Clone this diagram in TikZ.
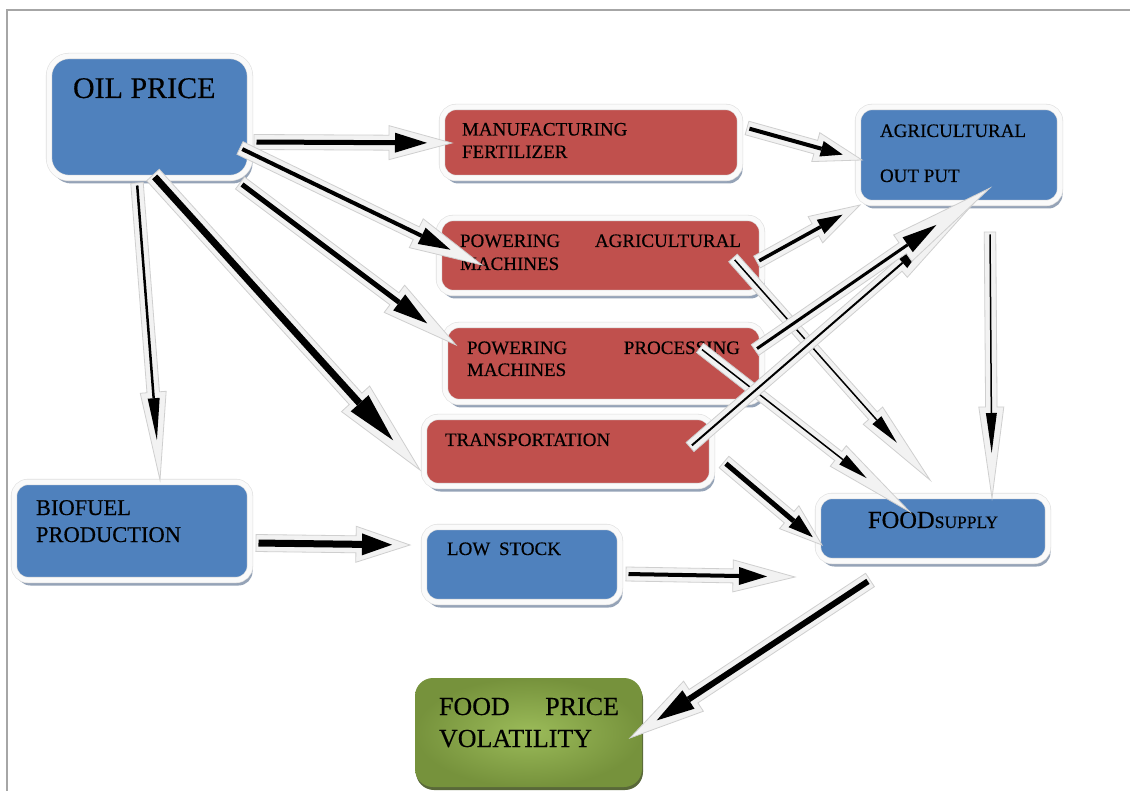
\documentclass[tikz,border=0pt]{standalone}
\usepackage{fontspec}
\setmainfont{Liberation Serif}[FakeBold=0.35]
\usetikzlibrary{calc,shadows}
\definecolor{oblue}{HTML}{4F81BD}
\definecolor{ored}{HTML}{C0504D}
\definecolor{ogreenA}{HTML}{9BBB59}
\definecolor{ogreenB}{HTML}{76923C}
\definecolor{glowc}{HTML}{F2F2F2}
\definecolor{glowe}{HTML}{CFCFCF}
\definecolor{shadc}{HTML}{8A9AB0}
\tikzset{
  box/.style={rectangle, rounded corners=14pt, draw=gray!25, double=white!96!gray,
    double distance=5pt, line width=0.6pt, inner sep=0pt, outer sep=0pt,
    drop shadow={shadow xshift=2.5pt, shadow yshift=-5.5pt, fill=shadc, opacity=0.9}},
  bluebox/.style={box, fill=oblue},
  redbox/.style={box, fill=ored},
  greenbox/.style={rectangle, rounded corners=18pt, inner sep=0pt,
    shading=radial, inner color=ogreenA, outer color=ogreenB,
    drop shadow={shadow xshift=1pt, shadow yshift=-3pt, fill=ogreenB!60!black, opacity=0.9}},
  txt/.style={anchor=base west, inner sep=0pt, outer sep=0pt, font=\fontsize{19}{23}\selectfont},
  glow/.style={fill=glowc, draw=glowe, line width=0.8pt, line join=miter},
}
\newcommand\warrow[6]{% #1 tail, #2 glow tip, #3 shaft width, #4 head half width, #5 head length, #6 tip inset
  \pgfmathsetmacro\wLg{#5+#6+6}%
  \pgfmathsetmacro\wgw{#3/2+5}%
  \pgfmathsetmacro\wGW{#4+7}%
  \coordinate (wB) at ($(#2)!\wLg pt!(#1)$);
  \coordinate (wTb) at ($(#2)!#6pt!(#1)$);
  \coordinate (wBb) at ($(wTb)!#5pt!(#1)$);
  \coordinate (wS) at ($(#1)!2.5pt!(#2)$);
  \filldraw[glow] ($(#1)!\wgw pt!90:(#2)$) -- ($(wB)!\wgw pt!90:(#2)$) -- ($(wB)!\wGW pt!90:(#2)$)
     -- (#2) -- ($(wB)!\wGW pt!-90:(#2)$) -- ($(wB)!\wgw pt!-90:(#2)$) -- ($(#1)!\wgw pt!-90:(#2)$) -- cycle;
  \draw[black, line width=#3pt] (wS) -- (wBb);
  \fill[black] ($(wBb)!#4pt!90:(#2)$) -- (wTb) -- ($(wBb)!#4pt!-90:(#2)$) -- cycle;
}
\begin{document}
\begin{tikzpicture}[x=1pt,y=-1pt]
\useasboundingbox (0,0) rectangle (1130,791);
\fill[white] (0,0) rectangle (1130,791);
\draw[gray!70, line width=1.4pt] (7,791) -- (7,10) -- (1130,10);

% boxes
\node[bluebox, rounded corners=20pt, minimum width=201pt, minimum height=122pt] (oil) at (149.5,117) {};
\node[redbox, minimum width=298pt, minimum height=71pt] (manuf) at (591,142.5) {};
\node[redbox, minimum width=323pt, minimum height=75pt] (powagr) at (600.5,255.5) {};
\node[redbox, minimum width=317pt, minimum height=77pt] (powproc) at (603.5,363.5) {};
\node[redbox, minimum width=288pt, minimum height=69pt] (transp) at (568,451.5) {};
\node[bluebox, minimum width=202pt, minimum height=96pt] (agri) at (959,155) {};
\node[bluebox, minimum width=230pt, minimum height=65pt] (food) at (933,528.5) {};
\node[bluebox, minimum width=236pt, minimum height=98pt] (biofuel) at (132,531) {};
\node[bluebox, minimum width=196pt, minimum height=75pt] (lowstock) at (522,564.5) {};
\node[greenbox, minimum width=227pt, minimum height=109pt] (vol) at (528.5,732.5) {};

% texts
\node[txt, font=\fontsize{30}{34}\selectfont] (toil) at (73,98) {OIL PRICE};
\node[txt] (tmanuf1) at (462,135.5) {MANUFACTURING};
\node[txt] (tmanuf2) at (462,158) {FERTILIZER};
\node[txt] (tpowagr1) at (460,247) {\makebox[281pt][l]{POWERING\hfill AGRICULTURAL}};
\node[txt] (tpowagr2) at (460,270) {MACHINES};
\node[txt] (tpowproc1) at (467,354) {\makebox[273pt][l]{POWERING\hfill PROCESSING}};
\node[txt] (tpowproc2) at (467,376) {MACHINES};
\node[txt] (ttransp) at (445,446) {TRANSPORTATION};
\node[txt] (tagri1) at (880,137) {AGRICULTURAL};
\node[txt] (tagri2) at (880,182) {OUT PUT};
\node[txt, font=\fontsize{22.5}{26}\selectfont] (tbio1) at (36,515) {BIOFUEL};
\node[txt, font=\fontsize{22.5}{26}\selectfont] (tbio2) at (36,542) {PRODUCTION};
\node[txt] (tlow) at (447,555) {LOW\hspace{4pt} STOCK};
\node[txt] (tfood) at (868,528) {{\fontsize{24.5}{28}\selectfont FOOD}{\fontsize{17.5}{20}\selectfont SUPPLY}};
\node[txt, font=\fontsize{26}{30}\selectfont] (tvol1) at (439,715) {\makebox[180pt][l]{FOOD\hfill PRICE}};
\node[txt, font=\fontsize{26}{30}\selectfont] (tvol2) at (439,747) {VOLATILITY};

% arrow end points
\coordinate (a1s) at (254,142);  \coordinate (a1t) at (452,143);
\coordinate (a2s) at (240,148);  \coordinate (a2t) at (482,265);
\coordinate (a3s) at (240,183);  \coordinate (a3t) at (456,345);
\coordinate (a4s) at (153,175);  \coordinate (a4t) at (420,470);
\coordinate (a5s) at (137,183);  \coordinate (a5t) at (160,480);
\coordinate (a6s) at (747,128);  \coordinate (a6t) at (862,160);
\coordinate (a7s) at (757,262);  \coordinate (a7t) at (860,205);
\coordinate (a8s) at (733,258);  \coordinate (a8t) at (930,480);
\coordinate (a9s) at (755,350);  \coordinate (a9t) at (990,188);
\coordinate (a10s) at (700,348); \coordinate (a10t) at (910,512);
\coordinate (a11s) at (690,447); \coordinate (a11t) at (982,194);
\coordinate (a12s) at (724,462); \coordinate (a12t) at (822,545);
\coordinate (a13s) at (990,232); \coordinate (a13t) at (992,498);
\coordinate (a14s) at (256,543); \coordinate (a14t) at (410,545);
\coordinate (a15s) at (626,574); \coordinate (a15t) at (795,577);
\coordinate (a16s) at (870,580); \coordinate (a16t) at (630,738);

% arrows
\warrow{a1s}{a1t}{5}{10}{32}{25}
\warrow{a2s}{a2t}{4}{9}{32}{35}
\warrow{a3s}{a3t}{5}{10}{35}{36}
\warrow{a4s}{a4t}{7}{12}{50}{40}
\warrow{a5s}{a5t}{2.5}{6}{42}{40}
\warrow{a6s}{a6t}{4}{8}{22}{20}
\warrow{a7s}{a7t}{3.5}{8}{25}{20}
\warrow{a8s}{a8t}{1.5}{6}{30}{50}
\warrow{a10s}{a10t}{1.5}{6}{30}{55}
\warrow{a11s}{a11t}{2}{7}{30}{75}
\warrow{a9s}{a9t}{3}{9}{35}{65}
\warrow{a12s}{a12t}{5}{8}{25}{12}
\warrow{a13s}{a13t}{1.5}{5.5}{40}{45}
\warrow{a14s}{a14t}{7}{11}{30}{18}
\warrow{a15s}{a15t}{4}{9}{28}{28}
\warrow{a16s}{a16t}{6}{11}{38}{32}
\end{tikzpicture}
\end{document}
